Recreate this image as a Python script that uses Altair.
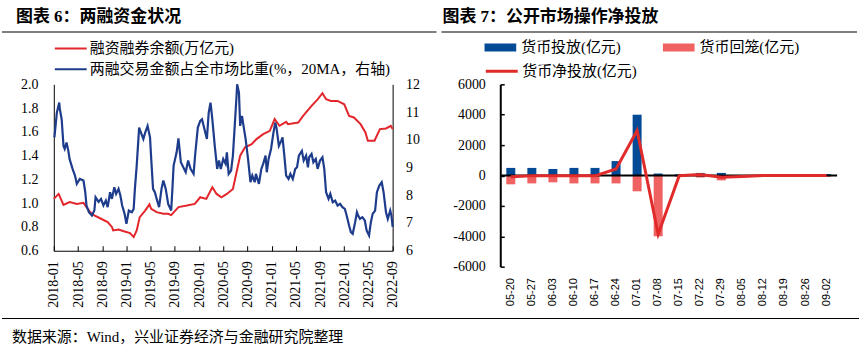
import altair as alt
import pandas as pd

# ---------------- left panel: margin financing ----------------
LEFT_TITLE = "图表 6：两融资金状况"
RIGHT_TITLE = "图表 7：公开市场操作净投放"
SOURCE = "数据来源：Wind，兴业证券经济与金融研究院整理"

MONTH_TICKS = ["2018-01", "2018-05", "2018-09", "2019-01", "2019-05", "2019-09",
               "2020-01", "2020-05", "2020-09", "2021-01", "2021-05", "2021-09",
               "2022-01", "2022-05", "2022-09"]
RED_NAME = "融资融券余额(万亿元)"
BLUE_NAME = "两融交易金额占全市场比重(%，20MA，右轴)"

# months elapsed since 2018-01
red_month = [0.0, 0.8, 1.6, 2.6, 3.8, 4.9, 5.4, 6.0, 6.7, 7.8, 8.9, 9.6, 9.8, 10.7, 11.7,
             12.6, 13.2, 13.7, 14.2, 15.1, 15.8, 16.1, 17.0, 18.1, 18.9, 19.4, 20.6, 22.0,
             23.3, 24.2, 25.2, 26.2, 26.9, 27.7, 28.6, 29.6, 30.2, 30.8, 31.6, 32.7, 33.5,
             34.6, 35.7, 36.5, 37.3, 38.4, 38.7, 40.4, 41.2, 42.6, 43.6, 44.4, 45.0, 45.8,
             46.9, 48.0, 48.8, 49.6, 50.7, 51.5, 51.9, 53.0, 53.9, 54.9, 55.7, 56.0]
red_value = [1.036, 1.078, 0.986, 1.009, 0.994, 1.003, 0.967, 0.925, 0.897, 0.869, 0.841,
             0.80, 0.771, 0.779, 0.762, 0.749, 0.715, 0.771, 0.883, 0.938, 0.99, 0.952,
             0.925, 0.911, 0.911, 0.90, 0.967, 0.98, 0.994, 1.05, 1.036, 1.134, 1.078, 1.05,
             1.078, 1.12, 1.26, 1.40, 1.47, 1.497, 1.539, 1.581, 1.609, 1.707, 1.651, 1.684,
             1.665, 1.679, 1.734, 1.818, 1.874, 1.925, 1.874, 1.86, 1.86, 1.832, 1.734,
             1.721, 1.665, 1.595, 1.525, 1.525, 1.623, 1.629, 1.651, 1.623]

blue_month = [0.1, 0.5, 0.9, 1.0, 1.3, 1.6, 1.8, 2.1, 2.4, 2.6, 3.1, 3.5, 3.8, 4.3, 4.9, 5.2,
              5.4, 5.8, 6.3, 6.7, 6.9, 7.4, 7.8, 8.2, 8.6, 8.9, 9.3, 9.6, 10.0, 10.3, 10.7,
              11.0, 11.3, 11.7, 12.0, 12.4, 12.9, 13.2, 13.4, 13.7, 14.1, 14.4, 14.8, 15.1,
              15.5, 15.9, 16.1, 16.4, 16.7, 17.0, 17.4, 17.8, 18.1, 18.5, 18.9, 19.4, 19.6,
              19.8, 20.3, 20.6, 21.0, 21.4, 21.8, 22.2, 22.6, 23.1, 23.4, 23.8, 24.2, 24.5,
              24.9, 25.3, 25.6, 25.9, 26.2, 26.6, 27.0, 27.3, 27.6, 28.0, 28.4, 28.6, 28.9,
              29.3, 29.6, 29.9, 30.2, 30.3, 30.6, 30.8, 31.1, 31.4, 31.7, 32.1, 32.5, 32.8,
              33.2, 33.4, 33.9, 34.3, 34.6, 35.0, 35.2, 35.5, 35.9, 36.3, 36.6, 36.8, 37.2,
              37.6, 37.8, 38.1, 38.4, 38.8, 39.1, 39.5, 39.9, 40.2, 40.5, 41.0, 41.3, 41.7,
              42.0, 42.2, 42.6, 42.9, 43.3, 43.6, 44.0, 44.4, 44.7, 45.0, 45.4, 45.7, 46.1,
              46.5, 46.9, 47.3, 47.7, 48.1, 48.4, 48.8, 49.1, 49.4, 49.8, 50.1, 50.3, 50.6,
              51.0, 51.4, 51.7, 52.1, 52.4, 52.7, 53.1, 53.4, 53.8, 54.2, 54.5, 54.9, 55.2,
              55.6, 55.8, 56.0]
blue_value = [10.09, 10.98, 11.34, 11.1, 10.74, 9.78, 9.67, 9.9, 9.6, 9.31, 8.95, 8.71, 8.41,
              8.59, 8.53, 8.11, 7.63, 7.39, 7.27, 7.45, 7.93, 7.76, 7.87, 7.63, 7.81, 7.57,
              8.11, 7.87, 8.29, 8.05, 8.23, 7.99, 7.63, 7.33, 6.97, 7.45, 7.39, 7.51, 8.23,
              9.07, 10.44, 10.26, 10.03, 10.26, 10.5, 10.09, 9.31, 8.23, 8.11, 7.87, 7.57,
              8.23, 8.53, 8.23, 7.69, 7.45, 8.23, 9.07, 9.55, 10.05, 9.19, 9.01, 8.83, 9.25,
              8.95, 8.77, 9.55, 10.44, 10.68, 10.74, 10.38, 10.03, 10.98, 11.34, 10.74, 9.78,
              8.95, 9.25, 8.95, 9.31, 9.13, 9.55, 8.77, 8.89, 9.43, 10.5, 11.58, 12.0, 11.7,
              10.5, 10.86, 10.44, 10.03, 9.31, 8.47, 8.71, 8.47, 8.77, 8.41, 8.95, 9.13, 9.43,
              8.83, 9.31, 9.67, 10.26, 10.62, 10.44, 9.78, 9.97, 10.09, 9.43, 8.71, 8.59,
              8.77, 8.59, 8.95, 9.01, 9.43, 9.6, 9.25, 9.43, 9.01, 9.37, 9.49, 9.19, 9.31,
              8.95, 9.25, 9.37, 8.95, 8.11, 7.87, 8.05, 7.75, 7.81, 7.63, 7.69, 7.57, 7.51,
              7.27, 6.91, 6.67, 6.61, 7.03, 7.39, 7.27, 7.15, 7.21, 7.09, 6.73, 6.55, 7.03,
              7.33, 7.45, 8.11, 8.35, 8.47, 8.11, 7.39, 7.15, 7.45, 7.27, 6.86]

# ---------------- right panel: open market operations ----------------
WEEKS = ["05-20", "05-27", "06-03", "06-10", "06-17", "06-24", "07-01", "07-08",
         "07-15", "07-22", "07-29", "08-05", "08-12", "08-19", "08-26", "09-02"]
INJ_NAME = "货币投放(亿元)"
WD_NAME = "货币回笼(亿元)"
NET_NAME = "货币净投放(亿元)"
inject = [500, 500, 430, 500, 500, 950, 4000, 130, 80, 170, 170, 0, 0, 0, 0, 90]
withdraw = [-580, -520, -450, -520, -520, -520, -1040, -4000, -90, -130, -320, -120, 0, 0, 0, -90]
net = [-80, -20, -20, -20, -20, 430, 2960, -3870, -10, 60, -120, -60, 0, 0, 0, 0]

# ---------------- styling ----------------
SERIF = "Liberation Serif, Noto Sans CJK SC"
SANS = "Liberation Sans, Noto Sans CJK SC"
RED = "#E3262B"
BLUE = "#1E3C8C"
BAR_BLUE = "#034A96"
BAR_PINK = "#F06262"
NET_RED = "#E12A2A"

one = pd.DataFrame({"k": [0]})


def text_layer(txt, x, y, size, weight="normal"):
    return alt.Chart(pd.DataFrame({"t": [txt]})).mark_text(
        align="left", baseline="middle", font=SERIF, fontSize=size,
        fontWeight=weight, color="#000"
    ).encode(text="t:N", x=alt.value(x), y=alt.value(y))


def hrule(x1, x2, y, w=1.2):
    return alt.Chart(one).mark_rule(color="#000", strokeWidth=w).encode(
        x=alt.value(x1), x2=alt.value(x2), y=alt.value(y))


# ---------- left chart ----------
label_expr = "[" + ",".join(f"'{t}'" for t in MONTH_TICKS) + "][round(datum.value/4)]"
xL_scale = alt.Scale(domain=[0, 56], nice=False, zero=False)
tick_vals = list(range(0, 57, 4))
xL_main = alt.X("m:Q", scale=xL_scale,
                axis=alt.Axis(values=tick_vals, labelExpr=label_expr, labelAngle=-90,
                              labelFont=SERIF, labelFontSize=14, labelColor="#000",
                              labelPadding=10, domainColor="#000", domainWidth=1,
                              ticks=False, grid=False, title=None, labelOverlap=False,
                              labelFlush=False))
# inward tick marks drawn by a second, label-less axis on the same scale
xL_ticks = alt.X("m:Q", scale=xL_scale,
                 axis=alt.Axis(orient="bottom", values=tick_vals, offset=-5, labels=False,
                               domain=False, ticks=True, tickSize=5, tickColor="#000",
                               tickWidth=1, grid=False, title=None))

colorL = alt.Color("s:N", scale=alt.Scale(domain=[RED_NAME, BLUE_NAME], range=[RED, BLUE]),
                   legend=alt.Legend(title=None, orient="none", legendX=0, legendY=-45,
                                     direction="vertical", symbolType="stroke", symbolSize=1024,
                                     symbolStrokeWidth=2, clipHeight=18, rowPadding=3,
                                     labelFont=SERIF, labelFontSize=15, labelColor="#000",
                                     labelOffset=2, labelLimit=600, padding=0))

df_red = pd.DataFrame({"m": red_month, "v": red_value, "s": RED_NAME})
df_blue = pd.DataFrame({"m": blue_month, "v": blue_value, "s": BLUE_NAME})

red_line = alt.Chart(df_red).mark_line(strokeWidth=2).encode(
    x=xL_main,
    y=alt.Y("v:Q", scale=alt.Scale(domain=[0.6, 2.0], nice=False, zero=False),
            axis=alt.Axis(orient="left", values=[0.6, 0.8, 1.0, 1.2, 1.4, 1.6, 1.8, 2.0],
                          format=".1f", labelFont=SERIF, labelFontSize=14, labelColor="#000",
                          labelPadding=16, ticks=False, domainColor="#000", domainWidth=1,
                          grid=False, title=None)),
    color=colorL)

blue_line = alt.Chart(df_blue).mark_line(strokeWidth=2.2).encode(
    x=xL_ticks,
    y=alt.Y("v:Q", scale=alt.Scale(domain=[6, 12], nice=False, zero=False),
            axis=alt.Axis(orient="right", values=[6, 7, 8, 9, 10, 11, 12], format="d",
                          labelFont=SERIF, labelFontSize=14, labelColor="#000",
                          labelPadding=13, ticks=False, domainColor="#000", domainWidth=1,
                          grid=False, title=None)),
    color=colorL)

bounds_rule = alt.Chart(one).mark_rule(strokeWidth=0, opacity=0).encode(
    x=alt.value(-52), x2=alt.value(815), y=alt.value(-83), y2=alt.value(267))

left = alt.layer(
    red_line, blue_line,
    text_layer(LEFT_TITLE, -38, -68, 17, "bold"),
    hrule(-52, 384, -52.5),
    hrule(-52, 808, 235),
    text_layer(SOURCE, -42, 254, 15),
    bounds_rule,
).resolve_scale(y="independent").resolve_axis(x="independent", y="independent").properties(
    width=340, height=167)

# ---------- right chart ----------
df_bars = pd.DataFrame({
    "w": WEEKS + WEEKS,
    "v": inject + withdraw,
    "s": [INJ_NAME] * len(WEEKS) + [WD_NAME] * len(WEEKS),
})
df_net = pd.DataFrame({"w": WEEKS, "v": net, "s": NET_NAME})

xR = alt.X("w:N", scale=alt.Scale(domain=WEEKS, paddingInner=0, paddingOuter=0),
           axis=alt.Axis(labelAngle=-90, labelFont=SANS, labelFontSize=11, labelColor="#000",
                         labelPadding=11, domain=False, ticks=False, grid=False, title=None))
yR_scale = alt.Scale(domain=[-6000, 6000], nice=False, zero=False)
yR_vals = [-6000, -4000, -2000, 0, 2000, 4000, 6000]
yR_main = alt.Axis(orient="left", values=yR_vals, labelExpr="'' + datum.value",
                   labelFont=SERIF, labelFontSize=14, labelColor="#000", labelPadding=15,
                   domainColor="#000", domainWidth=2, ticks=False, grid=False, title=None)
yR_ticks = alt.Axis(orient="left", values=yR_vals, offset=-4, labels=False, domain=False,
                    ticks=True, tickSize=4, tickColor="#000", tickWidth=1.5, grid=False,
                    title=None)

bars = alt.Chart(df_bars).mark_bar(size=9).encode(
    x=xR,
    y=alt.Y("v:Q", scale=yR_scale, axis=yR_main),
    color=alt.Color("s:N",
                    scale=alt.Scale(domain=[INJ_NAME, WD_NAME], range=[BAR_BLUE, BAR_PINK]),
                    legend=alt.Legend(title=None, orient="none", legendX=-16, legendY=-46,
                                      direction="horizontal", columnPadding=42, clipHeight=18,
                                      symbolType="M-1,-0.25H1V0.25H-1Z", symbolSize=1024,
                                      symbolStrokeWidth=0, labelFont=SERIF, labelFontSize=15,
                                      labelColor="#000", labelOffset=5, labelLimit=400,
                                      padding=0)),
)

zero_rule = alt.Chart(one).mark_rule(color="#000", strokeWidth=2).encode(
    y=alt.YDatum(0, scale=yR_scale, axis=None))

net_line = alt.Chart(df_net).mark_line(strokeWidth=3).encode(
    x=xR,
    y=alt.Y("v:Q", scale=yR_scale, axis=yR_ticks),
    color=alt.Color("s:N", scale=alt.Scale(domain=[NET_NAME], range=[NET_RED]),
                    legend=alt.Legend(title=None, orient="none", legendX=-16, legendY=-22,
                                      direction="vertical", symbolType="stroke",
                                      symbolSize=1024, symbolStrokeWidth=3, clipHeight=18,
                                      labelFont=SERIF, labelFontSize=15, labelColor="#000",
                                      labelOffset=3, labelLimit=400, padding=0)))

right = alt.layer(
    bars, zero_rule, net_line,
    text_layer(RIGHT_TITLE, -58, -68, 17, "bold"),
    hrule(-59, 358, -52.5),
).resolve_scale(color="independent").resolve_axis(y="independent").properties(
    width=338, height=183)

chart = alt.hconcat(left, right, spacing=108, bounds="flush").configure_view(
    stroke="transparent"
).properties(padding=0, autosize=alt.AutoSizeParams(type="pad"), background="white")

chart.save("out.html", embed_options={"renderer": "svg", "actions": False})
